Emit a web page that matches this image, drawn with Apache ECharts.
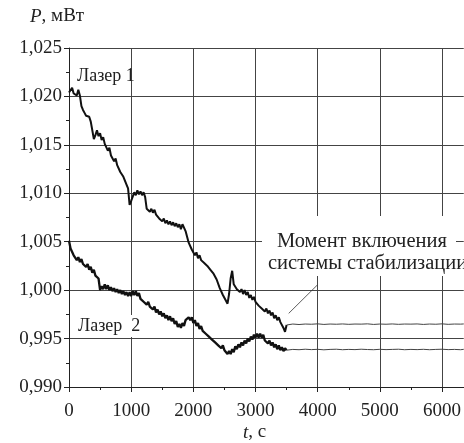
<!DOCTYPE html>
<html><head><meta charset="utf-8">
<script src="https://cdn.jsdelivr.net/npm/echarts@6/dist/echarts.min.js"></script>
<style>html,body{margin:0;padding:0;background:#fff}#c{width:464px;height:443px}</style>
</head><body><div id="c"></div>
<script>
// time, s (unstabilised part)
var tNoisy = [0,25,50,75,100,125,150,175,200,225,250,275,300,325,350,375,400,425,450,475,500,525,550,575,600,625,650,675,700,725,750,775,800,825,850,875,900,925,950,975,1000,1025,1050,1075,1100,1125,1150,1175,1200,1225,1250,1275,1300,1325,1350,1375,1400,1425,1450,1475,1500,1525,1550,1575,1600,1625,1650,1675,1700,1725,1750,1775,1800,1825,1850,1875,1900,1925,1950,1975,2000,2025,2050,2075,2100,2125,2150,2175,2200,2225,2250,2275,2300,2325,2350,2375,2400,2425,2450,2475,2500,2525,2550,2575,2600,2625,2650,2675,2700,2725,2750,2775,2800,2825,2850,2875,2900,2925,2950,2975,3000,3025,3050,3075,3100,3125,3150,3175,3200,3225,3250,3275,3300,3325,3350,3375,3400,3425,3450,3475,3500];
// Laser 1 power, mW
var laser1 = [1.0204,1.0202,1.0209,1.0203,1.0204,1.0201,1.0207,1.0201,1.0190,1.0186,1.0183,1.0180,1.0182,1.0179,1.0174,1.0172,1.0156,1.0160,1.0165,1.0159,1.0162,1.0155,1.0158,1.0151,1.0152,1.0144,1.0147,1.0139,1.0140,1.0133,1.0136,1.0129,1.0130,1.0122,1.0124,1.0117,1.0119,1.0109,1.0105,1.0088,1.0092,1.0092,1.0101,1.0098,1.0103,1.0099,1.0102,1.0098,1.0101,1.0096,1.0084,1.0086,1.0081,1.0084,1.0080,1.0083,1.0078,1.0080,1.0074,1.0076,1.0071,1.0074,1.0069,1.0072,1.0068,1.0071,1.0067,1.0070,1.0066,1.0069,1.0065,1.0068,1.0063,1.0068,1.0069,1.0061,1.0059,1.0049,1.0049,1.0042,1.0043,1.0036,1.0039,1.0033,1.0036,1.0031,1.0033,1.0028,1.0030,1.0025,1.0027,1.0021,1.0023,1.0017,1.0018,1.0011,1.0011,1.0002,1.0002,0.9995,0.9996,0.9989,0.9986,0.9996,1.0012,1.0020,1.0006,1.0007,1.0001,1.0003,0.9998,1.0001,0.9996,1.0000,0.9995,0.9998,0.9992,0.9995,0.9990,0.9993,0.9988,0.9990,0.9984,0.9986,0.9981,0.9983,0.9978,0.9981,0.9976,0.9979,0.9974,0.9977,0.9971,0.9974,0.9969,0.9972,0.9967,0.9969,0.9961,0.9957,0.9964];
// Laser 2 power, mW
var laser2 = [1.0051,1.0043,1.0044,1.0036,1.0037,1.0031,1.0034,1.0029,1.0032,1.0027,1.0029,1.0024,1.0027,1.0021,1.0024,1.0018,1.0021,1.0015,1.0017,1.0012,1.0000,1.0004,1.0001,1.0006,1.0001,1.0005,1.0000,1.0003,0.9999,1.0002,0.9998,1.0001,0.9997,1.0000,0.9996,0.9999,0.9995,0.9998,0.9994,0.9998,0.9994,0.9999,0.9995,0.9999,0.9994,0.9997,0.9991,0.9993,0.9988,0.9990,0.9985,0.9988,0.9983,0.9985,0.9980,0.9983,0.9977,0.9980,0.9975,0.9978,0.9973,0.9976,0.9971,0.9974,0.9969,0.9973,0.9968,0.9971,0.9965,0.9968,0.9962,0.9965,0.9961,0.9966,0.9963,0.9969,0.9967,0.9972,0.9969,0.9972,0.9966,0.9969,0.9963,0.9966,0.9960,0.9963,0.9958,0.9960,0.9955,0.9957,0.9952,0.9954,0.9949,0.9951,0.9946,0.9948,0.9943,0.9945,0.9940,0.9943,0.9938,0.9940,0.9934,0.9937,0.9934,0.9939,0.9936,0.9942,0.9939,0.9944,0.9941,0.9946,0.9943,0.9948,0.9945,0.9950,0.9947,0.9952,0.9949,0.9954,0.9951,0.9955,0.9951,0.9955,0.9951,0.9954,0.9948,0.9950,0.9945,0.9948,0.9943,0.9946,0.9941,0.9944,0.9939,0.9943,0.9938,0.9941,0.9937,0.9940,0.9938];
// stabilised part
var tStab = [3500,3600,3700,3800,3900,4000,4100,4200,4300,4400,4500,4600,4700,4800,4900,5000,5100,5200,5300,5400,5500,5600,5700,5800,5900,6000,6100,6200,6300,6350];
var laser1Stab = [0.9964,0.99650,0.99645,0.99650,0.99648,0.99652,0.99646,0.99650,0.99648,0.99651,0.99647,0.99650,0.99649,0.99652,0.99646,0.99650,0.99648,0.99651,0.99647,0.99650,0.99649,0.99651,0.99646,0.99650,0.99648,0.99652,0.99647,0.99650,0.99649,0.99651];
var laser2Stab = [0.9938,0.99388,0.99385,0.99390,0.99386,0.99389,0.99384,0.99388,0.99390,0.99385,0.99388,0.99386,0.99390,0.99387,0.99385,0.99389,0.99386,0.99388,0.99390,0.99385,0.99388,0.99386,0.99389,0.99385,0.99388,0.99390,0.99386,0.99388,0.99385,0.99389];
var yTicks = ['0,990','0,995','1,000','1,005','1,010','1,015','1,020','1,025'];
var xTicks = ['0','1000','2000','3000','4000','5000','6000'];

function pairs(t, v){ return t.map(function(x,i){ return [x, v[i]]; }); }
var FONT = '"Liberation Serif", "Times New Roman", Times, "DejaVu Serif", serif';
var CF = '18px "Liberation Serif", "Times New Roman", Times, serif';
var AF = '20.5px "Liberation Serif", "Times New Roman", Times, serif';
var NF = '19px "Liberation Serif", "Times New Roman", Times, serif';
var NFI = 'italic 19px "Liberation Serif", "Times New Roman", Times, serif';
var chart = echarts.init(document.getElementById('c'), null, {renderer:'canvas'});
chart.setOption({
  animation:false,
  backgroundColor:'#fff',
  textStyle:{fontFamily:FONT},
  grid:{left:69, right:0, top:48, bottom:56, containLabel:false},
  xAxis:{
    type:'value', min:0, max:6350, interval:1000,
    axisLine:{show:true, lineStyle:{color:'#222', width:1}},
    axisTick:{show:true, length:5, lineStyle:{color:'#222'}},
    minorTick:{show:true, splitNumber:2, length:3, lineStyle:{color:'#222'}},
    splitLine:{show:true, lineStyle:{color:'#444', width:1}},
    axisLabel:{showMaxLabel:false, fontFamily:FONT, fontSize:19, color:'#222', margin:15,
      formatter:function(v){ var i = Math.round(v/1000); return xTicks[i] !== undefined && Math.abs(v - i*1000) < 1e-6 ? xTicks[i] : ''; }}
  },
  yAxis:{
    type:'value', min:0.990, max:1.025, interval:0.005,
    axisLine:{show:true, lineStyle:{color:'#222', width:1}},
    axisTick:{show:true, length:5, lineStyle:{color:'#222'}},
    minorTick:{show:true, splitNumber:2, length:3, lineStyle:{color:'#222'}},
    splitLine:{show:true, lineStyle:{color:'#444', width:1}},
    axisLabel:{fontFamily:FONT, fontSize:19, color:'#222', margin:7,
      formatter:function(v){ var i = Math.round((v-0.990)/0.005); return yTicks[i] || ''; }}
  },
  series:[
    {name:'Лазер 1', type:'line', data:pairs(tNoisy, laser1), showSymbol:false, symbol:'none', lineStyle:{color:'#111', width:2.0}, z:3,
     markLine:{silent:true, symbol:['none','none'], label:{show:false}, lineStyle:{color:'#333', width:0.8, type:'solid'},
       data:[[{coord:[3534,0.9976]},{coord:[3990,1.0005]}]]}},
    {name:'Лазер 2', type:'line', data:pairs(tNoisy, laser2), showSymbol:false, symbol:'none', lineStyle:{color:'#111', width:2.3}, z:3},
    {name:'Лазер 1 стаб.', type:'line', data:pairs(tStab, laser1Stab), showSymbol:false, symbol:'none', lineStyle:{color:'#444', width:1}, z:3},
    {name:'Лазер 2 стаб.', type:'line', data:pairs(tStab, laser2Stab), showSymbol:false, symbol:'none', lineStyle:{color:'#444', width:1}, z:3}
  ],
  graphic:[
    {type:'text', left:30, top:7, z:10, style:{text:'{i|P}, мВт', font:NF, fill:'#222', rich:{i:{font:NFI, fill:'#222'}}}},
    {type:'text', left:243, top:423, z:10, style:{text:'{i|t}, с', font:NF, fill:'#222', rich:{i:{font:NFI, fill:'#222'}}}},
    {type:'text', left:77, top:67, z:10, style:{text:'Лазер 1', font:CF, fill:'#222'}},
    {type:'text', left:76, top:315, z:10, style:{text:'Лазер  2', font:CF, fill:'#222', backgroundColor:'#fff', padding:[2,2,2,2]}},
    {type:'rect', left:262, top:216, z:9, shape:{width:194, height:60}, style:{fill:'#fff'}},
    {type:'text', left:277, top:231, z:10, style:{text:'Момент включения', font:AF, fill:'#222'}},
    {type:'text', left:268, top:253, z:10, style:{text:'системы стабилизации', font:AF, fill:'#222'}}
  ]
});
</script>
</body></html>
